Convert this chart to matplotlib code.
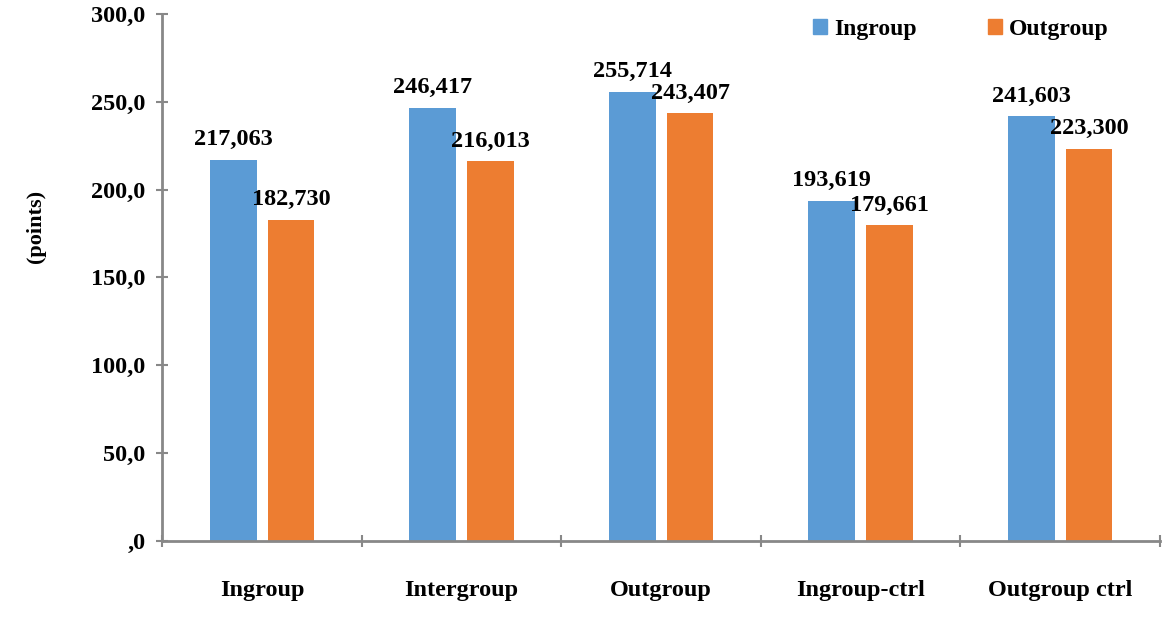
import numpy as np
import matplotlib.pyplot as plt
from matplotlib.patches import Patch

categories = ['Ingroup', 'Intergroup', 'Outgroup', 'Ingroup-ctrl', 'Outgroup ctrl']
ingroup = [217.063, 246.417, 255.714, 193.619, 241.603]
outgroup = [182.730, 216.013, 243.407, 179.661, 223.300]
series_names = ['Ingroup', 'Outgroup']

blue = '#5B9BD5'
orange = '#ED7D31'
font = 'Liberation Serif'

fig = plt.figure(figsize=(11.68, 6.29), dpi=100)
ax = fig.add_axes([0.139, 0.140, 0.854, 0.838])

x = np.arange(len(categories))
w = 0.235
off = 0.145
b1 = ax.bar(x - off, ingroup, w, color=blue)
b2 = ax.bar(x + off, outgroup, w, color=orange)

def fmt(v):
    return f'{v:.3f}'.replace('.', ',')

for rects, vals in ((b1, ingroup), (b2, outgroup)):
    for r, v in zip(rects, vals):
        ax.annotate(fmt(v), (r.get_x() + r.get_width() / 2, v), xytext=(0, 7),
                    textcoords='offset points', ha='center', va='bottom',
                    fontsize=17.5, fontweight='bold', family=font)

ax.set_ylim(0, 300)
ax.set_xlim(-0.5, len(categories) - 0.5)
yt = np.arange(0, 301, 50)
ax.set_yticks(yt)
ax.set_yticklabels([',0' if t == 0 else f'{t},0' for t in yt],
                   fontsize=17.5, fontweight='bold', family=font)

# category boundaries carry the tick marks, labels sit at centres
ax.set_xticks(np.arange(-0.5, len(categories), 1.0))
ax.set_xticklabels([])
ax.set_xticks(x, minor=True)
ax.set_xticklabels(categories, minor=True, fontsize=17.5, fontweight='bold', family=font)
ax.tick_params(axis='x', which='minor', length=0, pad=28)
ax.tick_params(axis='x', which='major', direction='inout', length=8, color='#888888', width=1.5)
ax.tick_params(axis='y', direction='inout', length=8, color='#888888', width=1.5, pad=8)

for s in ('top', 'right'):
    ax.spines[s].set_visible(False)
for s in ('left', 'bottom'):
    ax.spines[s].set_color('#888888')
    ax.spines[s].set_linewidth(2)

ax.set_ylabel('(points)', fontsize=16, fontweight='bold', family=font)
ax.yaxis.set_label_coords(-0.117, 0.596)

handles = [Patch(color=blue), Patch(color=orange)]
leg = ax.legend(handles, series_names, loc='upper right', bbox_to_anchor=(0.97, 1.03),
                ncol=2, frameon=False, handlelength=0.6, handleheight=0.6,
                handletextpad=0.3, columnspacing=3.0,
                prop={'family': font, 'weight': 'bold', 'size': 17})

fig.savefig('out.png', dpi=100)
